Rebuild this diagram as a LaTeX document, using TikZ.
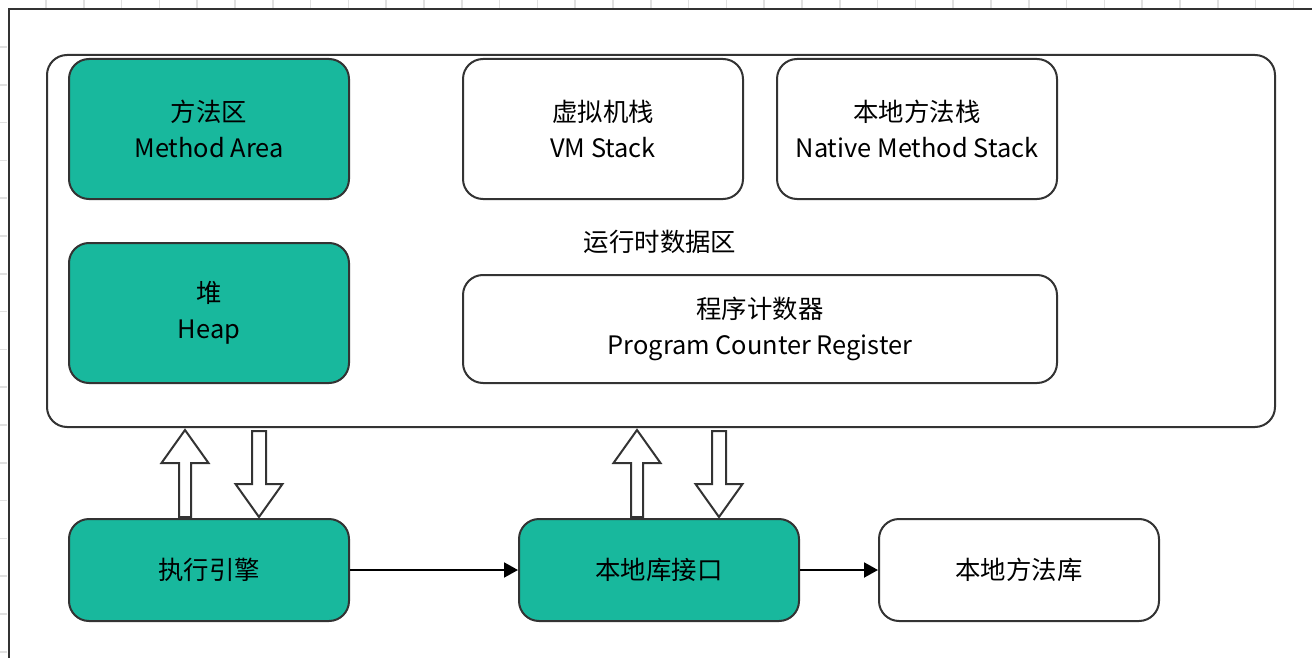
\documentclass[tikz,border=0pt]{standalone}
\usepackage{fontspec}
\setmainfont{Noto Sans CJK SC}
\usetikzlibrary{arrows.meta}
\definecolor{jvmgreen}{RGB}{24,184,157}
\definecolor{jvmline}{RGB}{51,51,51}
\definecolor{gridgray}{RGB}{224,224,224}
\tikzset{
  area/.style={draw=jvmline, line width=1pt, rounded corners=10pt,
    minimum width=140pt, minimum height=70pt, align=center,
    font=\fontsize{12.7}{17.8}\selectfont},
  greenbox/.style={area, fill=jvmgreen},
  whitebox/.style={area, fill=white},
  flow/.style={draw=black, line width=1pt, -{Triangle[length=7pt,width=7.5pt]}},
  fatarrow/.style={draw=jvmline, line width=1pt, fill=white, line join=miter},
}
\begin{document}
\begin{tikzpicture}[x=0.5pt,y=-0.5pt]
    \useasboundingbox (0,0) rectangle (1312,658);
    % grid outside the frame
    \foreach \i in {0,...,33}
        \draw[gridgray, line width=0.75pt] (46+37.8*\i,0) -- (46+37.8*\i,8);
    \foreach \i in {0,...,16}
        \draw[gridgray, line width=0.75pt] (0,47+37.8*\i) -- (7,47+37.8*\i);
    \draw[jvmline, line width=1pt] (1312,9) -- (8.5,9) -- (8.5,658);
    % runtime data area
    \node[whitebox, minimum width=614pt, minimum height=186pt] (runtime) at (661,241) {};
    \node[font=\fontsize{12.7}{17.8}\selectfont] (runtimelabel) at (660,242) {运行时数据区};
    \node[greenbox] (method) at (209,129) {方法区\\Method Area};
    \node[greenbox] (heap) at (209,313) {堆\\Heap};
    \node[whitebox] (vmstack) at (603,129) {虚拟机栈\\VM Stack};
    \node[whitebox] (nativestack) at (917,129) {本地方法栈\\Native Method Stack};
    \node[whitebox, minimum width=297pt, minimum height=54pt] (pc) at (760,329) {程序计数器\\Program Counter Register};
    % bottom row
    \node[greenbox, minimum height=51pt] (engine) at (209,570) {执行引擎};
    \node[greenbox, minimum height=51pt] (nativeif) at (659,570) {本地库接口};
    \node[whitebox, minimum height=51pt] (nativelib) at (1019,570) {本地方法库};
    \draw[flow] (engine) -- (nativeif);
    \draw[flow] (nativeif) -- (nativelib);
    % up and down block arrows
    \foreach \x in {185,637}
        \draw[fatarrow] (\x-6,517) -- (\x-6,463) -- (\x-23.5,463) -- (\x,430)
            -- (\x+23.5,463) -- (\x+6,463) -- (\x+6,517) -- cycle;
    \foreach \x in {259,719}
        \draw[fatarrow] (\x-7,431) -- (\x-7,484) -- (\x-23.5,484) -- (\x,517)
            -- (\x+23.5,484) -- (\x+7,484) -- (\x+7,431) -- cycle;
\end{tikzpicture}
\end{document}
